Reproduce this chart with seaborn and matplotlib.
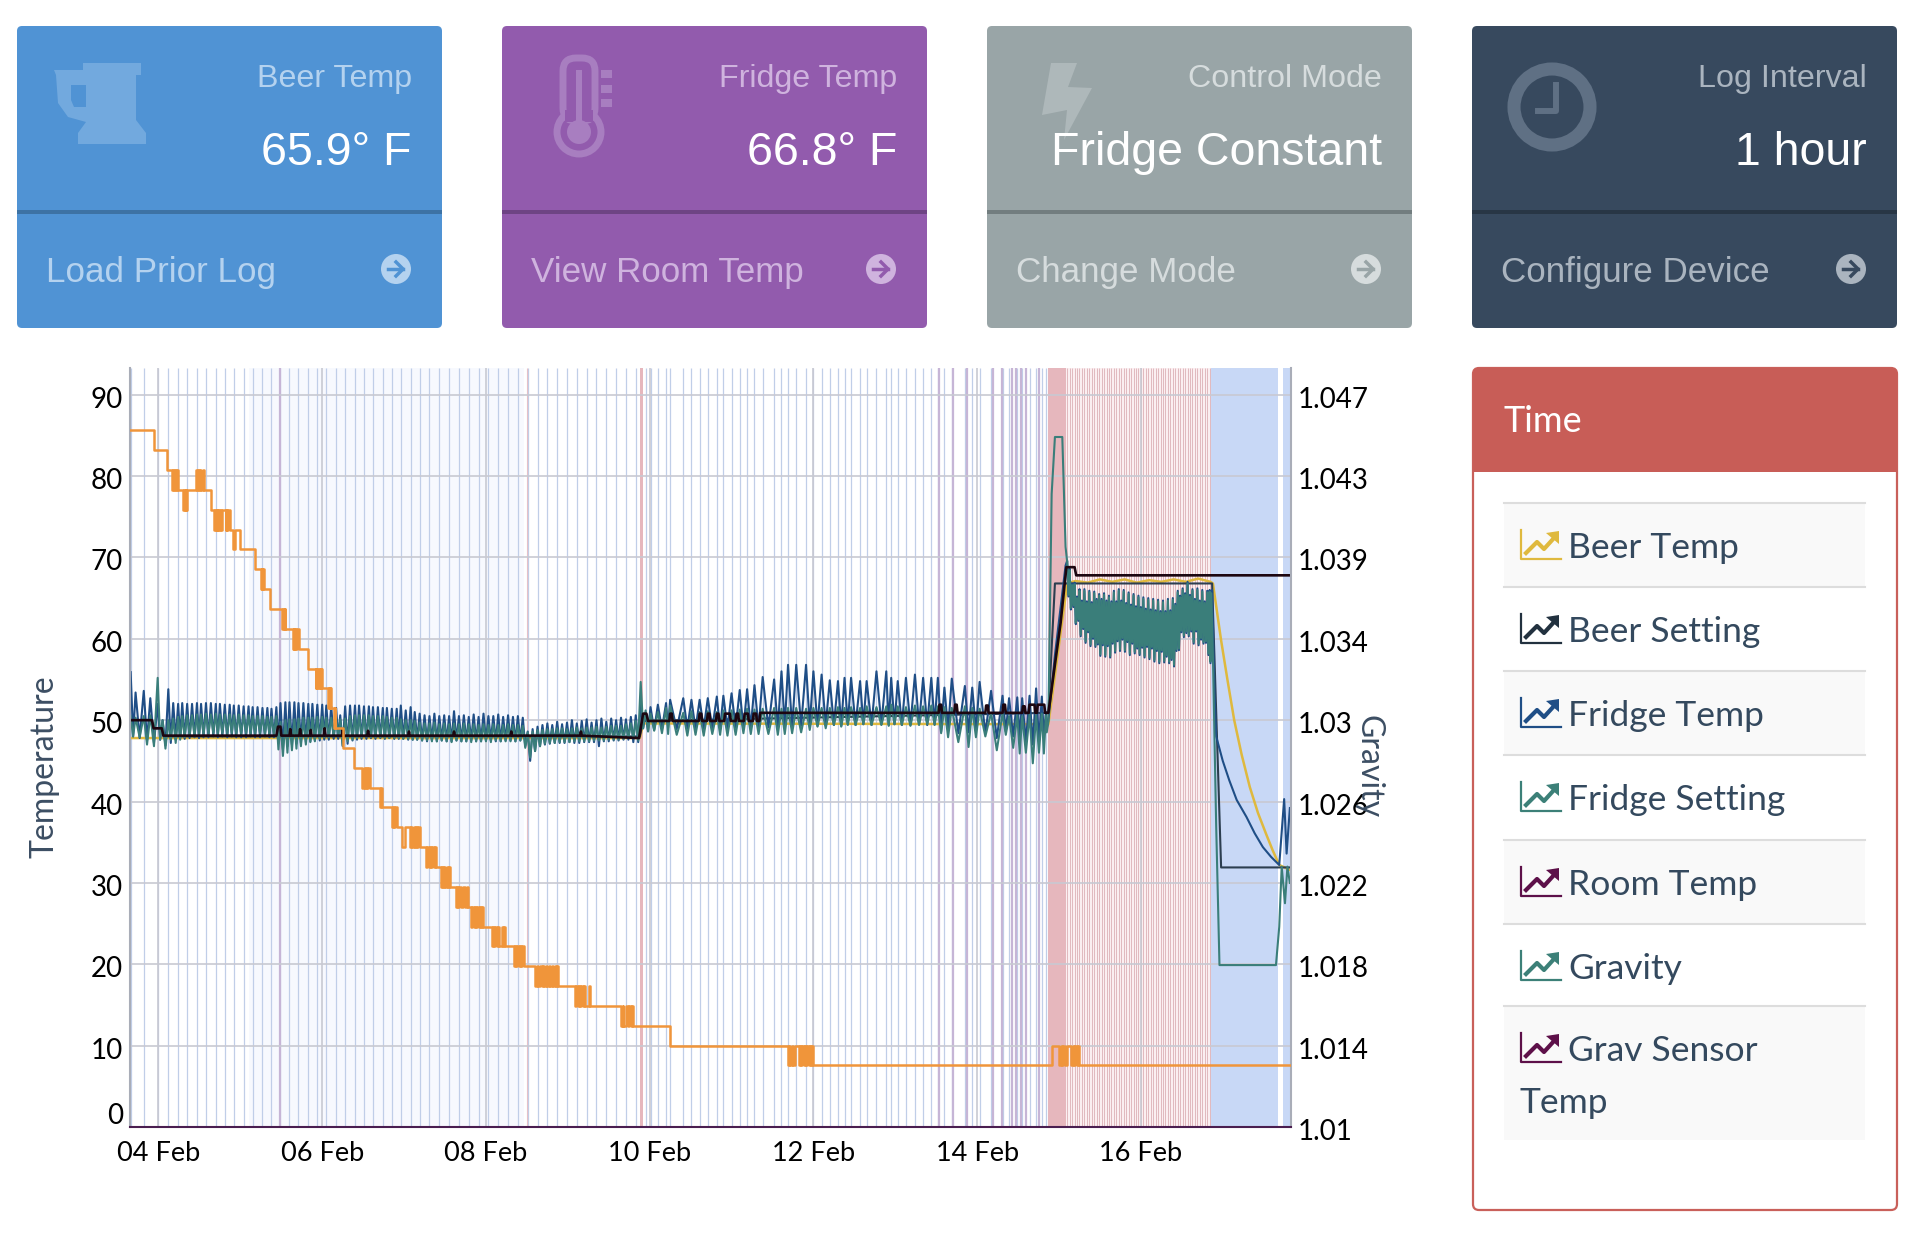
# Import library
import numpy as np
import pandas as pd
import seaborn as sns
import matplotlib.pyplot as plt
from matplotlib.patches import Circle, FancyBboxPatch, Polygon, Rectangle
from matplotlib.transforms import ScaledTranslation

plt.rcParams['font.family'] = ['Lato', 'DejaVu Sans']
figure = plt.figure(figsize=(19.12, 12.48), dpi=100)

# Page layer in pixels, for the cards and the side panel
plt.axes([0, 0, 1, 1])
plt.xlim(0, 1912)
plt.ylim(1248, 0)
plt.axis('off')
page = plt.gca()

# left, fill, divider, icon, soft text, title, value, footer
cards = [
    (17, '#5093d4', '#3d72a4', '#72a9de', '#b4d2ef', 'Beer Temp', '65.9° F', 'Load Prior Log'),
    (502, '#925bad', '#6e4484', '#a87ec0', '#cfb3de', 'Fridge Temp', '66.8° F', 'View Room Temp'),
    (987, '#99a5a7', '#727d7f', '#aeb8ba', '#d6dcdd', 'Control Mode', 'Fridge Constant', 'Change Mode'),
    (1472, '#37495e', '#283645', '#5f7084', '#aab4bf', 'Log Interval', '1 hour', 'Configure Device'),
]
for left, fill, divider, icon, soft, title, value, footer in cards:
    page.add_patch(FancyBboxPatch((left + 5, 31), 415, 292, boxstyle='round,pad=5', fc=fill, ec='none'))
    page.add_patch(Rectangle((left, 210), 425, 4, fc=divider, ec='none'))
    plt.text(left + 395, 87, title, ha='right', va='baseline', color=soft, fontsize=23.2, family='Liberation Sans')
    plt.text(left + 395, 165, value, ha='right', va='baseline', color='white', fontsize=33.5, family='Liberation Sans')
    plt.text(left + 29, 282, footer, ha='left', va='baseline', color=soft, fontsize=25.2, family='Liberation Sans')
    page.add_patch(Circle((left + 379, 269), 15, fc=soft, ec='none'))
    plt.plot([left + 371, left + 386], [269, 269], color=fill, lw=2.5)
    plt.plot([left + 379, left + 386, left + 379], [262, 269, 276], color=fill, lw=2.5)

# Card icons
page.add_patch(Polygon([(83, 63), (141, 63), (141, 75), (136, 75), (136, 120), (146, 133), (146, 144), (78, 144),
                        (78, 133), (86, 122), (68, 117), (58, 103), (56, 75), (54, 70), (83, 70)], fc='#72a9de'))
page.add_patch(Polygon([(71, 85), (86, 85), (86, 107), (74, 107), (71, 100)], fc='#5093d4'))
page.add_patch(Circle((579, 132), 22, fc='#925bad', ec='#a87ec0', lw=5))
page.add_patch(FancyBboxPatch((566, 61), 26, 57, boxstyle='round,pad=3,rounding_size=13', fc='#925bad', ec='#a87ec0', lw=5))
page.add_patch(Rectangle((565, 110), 28, 12, fc='#925bad', ec='none'))
page.add_patch(Rectangle((576, 70), 6, 60, fc='#a87ec0', ec='none'))
page.add_patch(Circle((579, 132), 12, fc='#a87ec0', ec='none'))
for markTop in [70, 85, 99]:
    page.add_patch(Rectangle((601, markTop), 11, 8, fc='#a87ec0', ec='none'))
page.add_patch(Polygon([(1051, 63), (1077, 63), (1068, 87), (1092, 88), (1064, 140), (1067, 110), (1042, 115)], fc='#aeb8ba'))
page.add_patch(Circle((1552, 107), 38, fc='none', ec='#5f7084', lw=9.4))
plt.plot([1556, 1556, 1538], [85, 111, 111], color='#5f7084', lw=4.3)

# Side panel with the series names
page.add_patch(FancyBboxPatch((1479, 374), 412, 830, boxstyle='round,pad=6', fc='white', ec='#c9605a', lw=1.6))
page.add_patch(FancyBboxPatch((1479, 374), 412, 92, boxstyle='round,pad=6', fc='#c85d57', ec='none'))
page.add_patch(Rectangle((1473, 440), 424, 32, fc='#c85d57', ec='none'))
plt.text(1504, 432, 'Time', color='white', fontsize=26, va='baseline')

legendRows = [
    (503, 587, '#dfb93e', 'Beer Temp', True),
    (587, 671, '#22313f', 'Beer Setting', False),
    (671, 755, '#1f4e86', 'Fridge Temp', True),
    (755, 840, '#3c8078', 'Fridge Setting', False),
    (840, 924, '#5d1049', 'Room Temp', True),
    (924, 1006, '#3c8078', 'Gravity', False),
    (1006, 1140, '#5d1049', 'Grav Sensor', True),
]
for top, bottom, color, name, shaded in legendRows:
    if shaded:
        page.add_patch(Rectangle((1504, top), 361, bottom - top, fc='#f9f9f9', ec='none'))
    plt.plot([1504, 1865], [top, top], color='#dddddd', lw=1.5)
    plt.plot([1521, 1521, 1561], [top + 27, top + 56, top + 56], color=color, lw=1.6)
    plt.plot([1526, 1537, 1544, 1554], [top + 50, top + 39, top + 46, top + 35], color=color, lw=3)
    page.add_patch(Polygon([(1546, top + 30), (1559, top + 28), (1559, top + 41)], fc=color, ec='none'))
    plt.text(1568, top + 55, name, color='#34495e', fontsize=25.5, va='baseline')
plt.text(1520, 1113, 'Temp', color='#34495e', fontsize=25.5, va='baseline')

# Fridge cycles before the heating starts: day of Feb, fridge high/low, setting high/low
coldCycles = [
    [3.66, 55.9, 48.0, 50.5, 48.0], [3.72, 53.4, 47.8, 50.3, 47.9], [3.82, 53.6, 47.5, 50.5, 47.0], [3.90, 52.7, 47.2, 50.6, 46.8],
    [3.99, 52.0, 47.6, 55.2, 47.6], [4.05, 50.0, 46.9, 50.0, 46.5], [4.12, 53.8, 47.2, 50.0, 47.6], [4.18, 52.1, 47.6, 50.2, 47.2],
    [4.24, 52.0, 47.8, 50.4, 47.6], [4.29, 52.1, 47.7, 50.5, 47.9], [4.35, 52.0, 47.8, 50.6, 48.1], [4.41, 52.0, 47.9, 50.6, 48.0],
    [4.47, 52.1, 47.8, 50.7, 48.2], [4.52, 52.0, 47.9, 50.7, 48.3], [4.58, 52.1, 47.9, 50.8, 48.3], [4.64, 52.1, 48.0, 50.7, 48.4],
    [4.70, 52.0, 47.9, 50.8, 48.3], [4.75, 52.0, 48.0, 50.7, 48.4], [4.81, 51.9, 47.9, 50.7, 48.3], [4.87, 51.9, 48.0, 50.7, 48.4],
    [4.92, 51.8, 47.9, 50.6, 48.3], [4.98, 51.8, 47.9, 50.7, 48.3], [5.04, 51.7, 47.9, 50.6, 48.4], [5.10, 51.7, 48.0, 50.6, 48.3],
    [5.15, 51.6, 47.9, 50.5, 48.3], [5.21, 51.6, 47.9, 50.5, 48.4], [5.27, 51.5, 48.0, 50.5, 48.3], [5.33, 51.5, 47.9, 50.4, 48.3],
    [5.38, 51.4, 47.9, 50.4, 48.2], [5.44, 51.6, 47.2, 50.5, 46.4], [5.49, 52.1, 46.4, 49.8, 45.6], [5.55, 52.2, 46.8, 50.0, 46.0],
    [5.60, 52.2, 47.0, 50.1, 46.3], [5.66, 52.2, 47.1, 50.1, 46.5], [5.71, 52.1, 47.2, 50.2, 46.8], [5.77, 52.1, 47.3, 50.3, 47.0],
    [5.83, 52.0, 47.4, 50.3, 47.3], [5.88, 52.0, 47.5, 50.3, 47.4], [5.94, 51.9, 47.5, 50.4, 47.7], [6.00, 51.9, 47.6, 50.4, 47.9],
    [6.05, 51.8, 47.6, 50.3, 47.9], [6.11, 51.7, 47.7, 50.3, 48.0], [6.17, 51.5, 47.7, 50.2, 48.0], [6.22, 50.6, 46.8, 50.1, 46.9],
    [6.28, 51.7, 47.1, 50.2, 47.4], [6.34, 51.8, 47.5, 50.5, 47.6], [6.40, 51.8, 47.6, 50.6, 47.8], [6.45, 51.8, 47.7, 50.6, 47.9],
    [6.51, 51.7, 47.7, 50.6, 48.0], [6.57, 51.7, 47.8, 50.6, 47.9], [6.62, 51.6, 47.7, 50.5, 47.9], [6.68, 51.6, 47.8, 50.5, 47.9],
    [6.74, 51.5, 47.7, 50.5, 47.8], [6.79, 51.5, 47.8, 50.4, 47.8], [6.85, 51.4, 47.7, 50.3, 47.8], [6.91, 51.4, 47.7, 50.3, 47.8],
    [6.96, 51.8, 47.7, 50.1, 47.7], [7.02, 51.2, 47.6, 50.0, 47.7], [7.08, 51.6, 47.6, 50.0, 47.6], [7.13, 51.0, 47.6, 49.9, 47.6],
    [7.19, 50.8, 47.5, 49.7, 47.5], [7.25, 50.6, 47.4, 49.6, 47.5], [7.31, 50.5, 47.5, 49.6, 47.4], [7.37, 50.8, 47.4, 49.7, 47.4],
    [7.43, 50.5, 47.5, 49.5, 47.5], [7.49, 50.6, 47.4, 49.6, 47.4], [7.55, 50.5, 47.4, 49.5, 47.3], [7.61, 51.1, 47.5, 49.6, 47.5],
    [7.67, 50.5, 47.4, 49.5, 47.4], [7.73, 50.6, 47.4, 49.6, 47.4], [7.79, 50.4, 47.5, 49.5, 47.3], [7.85, 50.7, 47.4, 49.5, 47.4],
    [7.91, 50.4, 47.4, 49.4, 47.4], [7.97, 50.8, 47.5, 49.5, 47.4], [8.03, 50.5, 47.5, 49.4, 47.3], [8.09, 50.5, 47.4, 49.5, 47.5],
    [8.15, 50.7, 47.4, 49.4, 47.4], [8.21, 50.4, 47.5, 49.4, 47.4], [8.27, 50.6, 47.5, 49.5, 47.4], [8.33, 50.4, 47.4, 49.4, 47.4],
    [8.39, 50.5, 47.5, 49.4, 47.5], [8.45, 50.3, 46.8, 49.3, 46.6], [8.51, 48.6, 45.0, 48.5, 45.4], [8.57, 48.9, 46.2, 48.6, 46.2],
    [8.63, 49.2, 46.8, 48.8, 46.8], [8.69, 49.4, 47.0, 48.8, 47.1], [8.75, 49.6, 47.1, 48.9, 47.2], [8.81, 49.4, 47.2, 48.9, 47.2],
    [8.87, 49.8, 47.2, 49.0, 47.3], [8.93, 49.5, 47.2, 49.0, 47.3], [8.99, 49.7, 47.3, 48.9, 47.3], [9.05, 50.0, 47.2, 49.0, 47.4],
    [9.11, 49.6, 47.2, 49.1, 47.4], [9.17, 49.9, 47.3, 49.0, 47.4], [9.23, 50.1, 47.3, 49.1, 47.4], [9.29, 49.7, 47.3, 49.1, 47.5],
    [9.35, 50.0, 46.8, 49.2, 47.5], [9.41, 50.2, 47.4, 49.1, 47.5], [9.47, 49.8, 47.4, 49.2, 47.6], [9.53, 50.2, 47.5, 49.3, 47.6],
    [9.59, 50.0, 47.5, 49.3, 47.6], [9.65, 50.3, 47.6, 49.3, 47.7], [9.71, 50.1, 47.6, 49.5, 47.8], [9.77, 50.4, 47.3, 49.6, 47.8],
    [9.83, 50.6, 47.3, 49.9, 47.5], [9.89, 52.0, 49.0, 54.7, 49.0], [9.95, 50.9, 48.7, 51.2, 48.6], [10.01, 51.6, 48.8, 50.8, 48.7],
    [10.10, 51.9, 48.9, 51.0, 48.4], [10.20, 52.1, 49.1, 51.5, 48.3], [10.25, 52.5, 48.9, 51.8, 48.2], [10.41, 52.7, 49.0, 50.9, 48.1],
    [10.51, 52.5, 48.9, 51.1, 48.2], [10.61, 52.5, 49.0, 51.0, 48.1], [10.71, 52.7, 49.0, 51.1, 48.3], [10.82, 52.9, 48.9, 51.0, 48.2],
    [10.90, 53.0, 49.0, 51.2, 48.1], [11.00, 53.3, 49.1, 51.2, 48.2], [11.10, 53.7, 49.0, 51.3, 48.4], [11.19, 53.8, 49.1, 51.4, 48.3],
    [11.28, 54.3, 49.0, 51.3, 48.3], [11.38, 55.3, 49.1, 51.4, 48.3], [11.52, 55.0, 49.0, 51.5, 48.2], [11.61, 56.0, 49.2, 51.4, 48.3],
    [11.69, 56.8, 49.1, 51.5, 48.4], [11.79, 56.8, 49.3, 51.5, 48.5], [11.91, 56.8, 49.4, 51.4, 48.8], [12.00, 56.0, 49.3, 51.5, 49.2],
    [12.10, 55.6, 49.4, 51.5, 49.0], [12.20, 54.9, 49.4, 51.5, 49.4], [12.30, 54.8, 49.3, 51.6, 49.2], [12.38, 55.2, 49.5, 51.5, 49.4],
    [12.46, 55.2, 49.4, 51.6, 49.4], [12.57, 54.8, 49.5, 51.5, 49.5], [12.65, 54.8, 49.4, 51.7, 49.4], [12.77, 56.0, 49.5, 51.6, 49.4],
    [12.89, 56.0, 49.4, 51.7, 49.3], [12.95, 55.2, 49.5, 51.9, 49.5], [13.03, 54.8, 49.4, 51.7, 49.4], [13.13, 55.2, 49.4, 51.6, 49.3],
    [13.24, 55.6, 49.5, 51.8, 49.4], [13.34, 55.2, 49.4, 51.7, 49.5], [13.44, 55.2, 49.5, 51.8, 49.4], [13.52, 55.2, 48.6, 51.7, 48.4],
    [13.60, 54.0, 48.8, 51.6, 47.9], [13.69, 55.1, 48.4, 51.5, 47.3], [13.85, 54.2, 48.5, 51.7, 46.7], [13.94, 54.0, 48.7, 51.5, 47.9],
    [14.03, 54.7, 48.4, 51.4, 48.0], [14.17, 53.6, 47.8, 50.9, 46.3], [14.31, 53.0, 48.6, 50.8, 48.2], [14.39, 52.7, 48.0, 50.5, 46.6],
    [14.49, 52.8, 47.8, 50.6, 45.9], [14.55, 52.7, 47.3, 50.5, 46.0], [14.64, 53.0, 47.0, 50.7, 44.7], [14.72, 53.9, 47.4, 50.6, 46.0],
    [14.79, 52.9, 48.0, 50.8, 45.9], [14.84, 51.0, 49.0, 50.6, 48.5],
]
cold = pd.DataFrame(coldCycles, columns=['day', 'fridgeHigh', 'fridgeLow', 'settingHigh', 'settingLow'])

# Fridge cycles while holding the warm setting, same columns
warmCycles = [
    [15.10, 69.6, 65.2, 69.4, 65.4], [15.13, 68.6, 63.6, 68.4, 63.8], [15.16, 66.8, 63.9, 66.6, 64.1], [15.19, 66.9, 61.8, 66.7, 62.0],
    [15.22, 65.2, 62.2, 65.0, 62.4], [15.25, 66.1, 60.3, 65.9, 60.5], [15.28, 64.7, 61.2, 64.5, 61.4], [15.31, 66.1, 59.5, 65.9, 59.7],
    [15.34, 64.6, 60.8, 64.4, 61.0], [15.37, 65.9, 59.1, 65.7, 59.3], [15.40, 64.5, 60.0, 64.3, 60.2], [15.43, 65.8, 59.0, 65.6, 59.2],
    [15.46, 64.9, 59.3, 64.7, 59.5], [15.49, 65.5, 57.9, 65.3, 58.1], [15.52, 64.9, 59.2, 64.7, 59.4], [15.55, 65.6, 57.8, 65.4, 58.0],
    [15.58, 64.7, 59.1, 64.5, 59.3], [15.61, 65.3, 57.7, 65.1, 57.9], [15.64, 64.6, 59.4, 64.4, 59.6], [15.67, 65.9, 58.3, 65.7, 58.5],
    [15.70, 64.6, 59.7, 64.4, 59.9], [15.73, 66.1, 58.5, 65.9, 58.7], [15.76, 64.7, 59.9, 64.5, 60.1], [15.79, 66.0, 58.4, 65.8, 58.6],
    [15.82, 64.4, 59.6, 64.2, 59.8], [15.85, 65.7, 58.0, 65.5, 58.2], [15.88, 64.2, 59.4, 64.0, 59.6], [15.91, 65.5, 58.2, 65.3, 58.4],
    [15.94, 64.0, 58.8, 63.8, 59.0], [15.97, 65.3, 58.0, 65.1, 58.2], [16.00, 63.9, 58.9, 63.7, 59.1], [16.03, 65.1, 57.7, 64.9, 57.9],
    [16.06, 63.7, 59.0, 63.5, 59.2], [16.09, 65.0, 57.5, 64.8, 57.7], [16.12, 63.6, 58.8, 63.4, 59.0], [16.15, 64.9, 57.2, 64.7, 57.4],
    [16.18, 63.5, 58.5, 63.3, 58.7], [16.21, 64.8, 57.0, 64.6, 57.2], [16.24, 63.4, 58.4, 63.2, 58.6], [16.27, 64.7, 57.1, 64.5, 57.3],
    [16.30, 63.4, 57.8, 63.2, 58.0], [16.33, 64.9, 57.0, 64.7, 57.2], [16.36, 63.5, 57.4, 63.3, 57.6], [16.39, 65.0, 56.6, 64.8, 56.8],
    [16.42, 64.3, 58.5, 64.1, 58.7], [16.45, 65.9, 58.6, 65.7, 58.8], [16.48, 65.3, 60.8, 65.1, 61.0], [16.51, 66.2, 60.2, 66.0, 60.4],
    [16.54, 65.6, 60.7, 65.4, 60.9], [16.57, 67.0, 60.3, 66.8, 60.5], [16.60, 65.4, 60.9, 65.2, 61.1], [16.63, 66.1, 59.4, 65.9, 59.6],
    [16.66, 64.9, 60.9, 64.7, 61.1], [16.69, 66.2, 59.2, 66.0, 59.4], [16.72, 64.7, 59.9, 64.5, 60.1], [16.75, 66.0, 59.4, 65.8, 59.6],
    [16.78, 64.6, 59.5, 64.4, 59.7], [16.81, 65.9, 58.0, 65.7, 58.2], [16.84, 66.0, 57.0, 65.8, 57.2],
]
warm = pd.DataFrame(warmCycles, columns=['day', 'fridgeHigh', 'fridgeLow', 'settingHigh', 'settingLow'])

# Each cycle goes high at its day and low halfway to the next one
cold['lowDay'] = (cold['day'] + cold['day'].shift(-1).fillna(14.86)) / 2
warm['lowDay'] = (warm['day'] + warm['day'].shift(-1).fillna(16.86)) / 2

fridgeDays = np.concatenate([np.ravel(cold[['day', 'lowDay']]), [14.87, 14.95, 15.08], np.ravel(warm[['day', 'lowDay']]),
                             [16.87, 16.90, 16.92, 17.00, 17.08, 17.17, 17.29, 17.39, 17.49, 17.59, 17.69, 17.75, 17.78, 17.82]])
fridgeTemp = np.concatenate([np.ravel(cold[['fridgeHigh', 'fridgeLow']]), [50.0, 58.0, 69.0], np.ravel(warm[['fridgeHigh', 'fridgeLow']]),
                             [66.0, 53.3, 48.0, 45.0, 42.6, 40.2, 38.1, 36.1, 34.4, 33.2, 32.2, 40.3, 33.6, 39.2]])
settingDays = np.concatenate([np.ravel(cold[['day', 'lowDay']]), [14.87, 14.91, 14.95, 15.04, 15.08], np.ravel(warm[['day', 'lowDay']]),
                              [16.86, 16.88, 16.92, 16.96, 17.65, 17.69, 17.72, 17.76, 17.79, 17.82]])
fridgeSetting = np.concatenate([np.ravel(cold[['settingHigh', 'settingLow']]), [49.8, 77.8, 84.8, 84.8, 71.3], np.ravel(warm[['settingHigh', 'settingLow']]),
                                [65.6, 57.8, 36.9, 19.9, 19.9, 24.6, 32.0, 27.5, 32.0, 30.0]])

beerDays = [3.65, 9.88, 9.92, 14.87, 15.10, 15.2, 15.35, 15.5, 15.65, 15.8, 15.95, 16.1, 16.25, 16.4, 16.55, 16.7, 16.85, 16.88,
            16.98, 17.06, 17.14, 17.23, 17.33, 17.43, 17.53, 17.61, 17.69, 17.82]
beerTemp = [47.8, 47.8, 49.6, 49.5, 66.8, 67.1, 66.9, 67.3, 67.0, 67.3, 66.9, 67.2, 67.0, 67.3, 67.0, 67.4, 67.0, 66.8,
            59.8, 54.8, 50.0, 45.8, 41.8, 38.6, 36.0, 34.0, 32.2, 31.6]

beerSettingDays = [3.65, 3.92, 3.94, 4.04, 4.06, 9.88, 9.92, 14.87, 14.95, 16.87, 16.98, 17.83]
beerSetting = [50.0, 50.0, 49.0, 49.0, 48.0, 48.0, 49.9, 50.9, 66.8, 66.8, 31.9, 31.9]

roomDays = [3.65, 3.92, 3.94, 4.04, 4.06, 5.44, 5.46, 5.49, 5.50, 5.60, 5.61, 5.62, 5.72, 5.73, 5.74, 5.85, 5.86, 5.87, 6.02, 6.03, 6.04,
            6.24, 6.25, 6.26, 6.55, 6.56, 6.57, 7.05, 7.06, 7.07, 7.60, 7.61, 7.62, 8.30, 8.31, 8.32, 9.15, 9.16, 9.17, 9.87, 9.92, 9.96, 9.98,
            10.24, 10.25, 10.27, 10.28, 10.60, 10.61, 10.63, 10.64, 10.70, 10.71, 10.73, 10.74, 10.81, 10.82, 10.84, 10.85,
            10.91, 10.92, 10.98, 10.99, 11.05, 11.06, 11.08, 11.09, 11.15, 11.16, 11.20, 11.21, 11.26, 11.27, 11.30, 11.31, 11.34, 11.35,
            13.53, 13.54, 13.56, 13.57, 13.72, 13.73, 13.75, 13.76, 14.10, 14.11, 14.13, 14.14, 14.31, 14.32, 14.34, 14.35, 14.55, 14.56,
            14.58, 14.59, 14.63, 14.64, 14.70, 14.71, 14.73, 14.74, 14.82, 14.83, 14.87, 15.02, 15.09, 15.19, 15.21, 17.83]
roomTemp = [50.0, 50.0, 49.0, 49.0, 48.1, 48.1, 49.2, 49.2, 48.1, 48.1, 48.9, 48.1, 48.1, 48.9, 48.1, 48.1, 48.8, 48.1, 48.1, 49.0, 48.1,
            48.1, 48.9, 48.1, 48.1, 48.7, 48.1, 48.1, 48.6, 48.1, 48.1, 48.6, 48.1, 48.1, 48.6, 48.1, 48.1, 48.6, 48.1, 47.8, 50.8, 50.8, 49.9,
            49.9, 50.8, 50.8, 49.9, 49.9, 50.8, 50.8, 49.9, 49.9, 50.8, 50.8, 49.9, 49.9, 50.8, 50.8, 49.9,
            49.9, 50.8, 50.8, 49.9, 49.9, 50.8, 50.8, 49.9, 49.9, 50.8, 50.8, 49.9, 49.9, 50.8, 50.8, 49.9, 49.9, 50.9,
            50.9, 51.9, 51.9, 50.9, 50.9, 51.9, 51.9, 50.9, 50.9, 51.8, 51.8, 50.9, 50.9, 51.9, 51.9, 50.9, 50.9, 51.7,
            51.7, 50.9, 50.9, 51.9, 51.9, 50.9, 50.9, 51.9, 51.9, 50.9, 50.9, 62.0, 68.8, 68.8, 67.8, 67.8]

# Gravity as day of Feb and points above 1.000, held until the next row
gravitySteps = [
    (3.65, 45.1), (3.945, 44.1), (4.11, 43.1), (4.17, 42.1), (4.18, 43.1), (4.19, 42.1), (4.20, 43.1), (4.21, 42.1), (4.22, 43.1), (4.235, 42.1), (4.30, 41.1), (4.31, 42.1),
    (4.32, 41.1), (4.33, 42.1), (4.34, 41.1), (4.35, 42.1), (4.46, 43.1), (4.47, 42.1), (4.48, 43.1), (4.49, 42.1), (4.51, 43.1), (4.525, 42.1), (4.54, 43.1), (4.555, 42.1),
    (4.64, 41.1), (4.68, 40.1), (4.69, 41.1), (4.70, 40.1), (4.71, 41.1), (4.72, 40.1), (4.73, 41.1), (4.74, 40.1), (4.75, 41.1), (4.76, 40.1), (4.78, 41.1), (4.82, 40.1),
    (4.83, 41.1), (4.84, 40.1), (4.85, 41.1), (4.87, 40.1), (4.91, 39.1), (4.93, 40.1), (4.99, 39.1), (5.18, 38.1), (5.25, 37.1), (5.26, 38.1), (5.27, 37.1), (5.28, 38.1),
    (5.29, 37.1), (5.36, 36.1), (5.51, 35.1), (5.52, 36.1), (5.53, 35.1), (5.54, 36.1), (5.55, 35.1), (5.64, 34.1), (5.65, 35.1), (5.66, 34.1), (5.67, 35.1), (5.68, 34.1),
    (5.69, 35.1), (5.72, 34.1), (5.83, 33.1), (5.92, 32.1), (5.93, 33.1), (5.94, 32.1), (5.95, 33.1), (5.96, 32.1), (5.97, 33.1), (5.98, 32.1), (5.99, 33.1), (6.00, 32.1),
    (6.07, 31.1), (6.08, 32.1), (6.09, 31.1), (6.10, 32.1), (6.11, 31.1), (6.14, 30.1), (6.15, 31.1), (6.16, 30.1), (6.25, 29.1), (6.39, 28.1),
    (6.49, 27.1), (6.505, 28.1), (6.52, 27.1), (6.535, 28.1), (6.55, 27.1), (6.565, 28.1), (6.58, 27.1), (6.70, 26.1), (6.715, 27.1), (6.73, 26.1),
    (6.85, 25.1), (6.865, 26.1), (6.88, 25.1), (6.895, 26.1), (6.91, 25.1), (6.98, 24.1), (7.01, 25.1), (7.07, 24.1), (7.085, 25.1), (7.10, 24.1), (7.115, 25.1), (7.13, 24.1),
    (7.145, 25.1), (7.16, 24.1), (7.175, 25.1), (7.19, 24.1), (7.27, 23.1), (7.285, 24.1), (7.30, 23.1), (7.315, 24.1), (7.33, 23.1), (7.345, 24.1), (7.36, 23.1), (7.375, 24.1), (7.39, 23.1),
    (7.445, 22.1), (7.46, 23.1), (7.475, 22.1), (7.49, 23.1), (7.505, 22.1), (7.52, 23.1), (7.535, 22.1), (7.55, 23.1), (7.565, 22.1),
    (7.63, 21.1), (7.645, 22.1), (7.66, 21.1), (7.675, 22.1), (7.69, 21.1), (7.72, 22.1), (7.75, 21.1), (7.77, 22.1), (7.775, 21.1),
    (7.82, 20.1), (7.835, 21.1), (7.85, 20.1), (7.865, 21.1), (7.88, 20.1), (7.895, 21.1), (7.91, 20.1), (7.925, 21.1), (7.94, 20.1), (7.955, 21.1), (7.97, 20.1),
    (8.07, 19.1), (8.085, 20.1), (8.10, 19.1), (8.115, 20.1), (8.13, 19.1), (8.145, 20.1), (8.16, 19.1), (8.19, 20.1), (8.205, 19.1), (8.22, 20.1), (8.23, 19.1),
    (8.34, 18.1), (8.355, 19.1), (8.37, 18.1), (8.385, 19.1), (8.40, 18.1), (8.415, 19.1), (8.43, 18.1), (8.445, 19.1), (8.46, 18.1),
    (8.60, 17.1), (8.62, 18.1), (8.64, 17.1), (8.66, 18.1), (8.68, 17.1), (8.70, 18.1), (8.715, 17.1), (8.735, 18.1), (8.75, 17.1), (8.77, 18.1), (8.785, 17.1), (8.805, 18.1), (8.82, 17.1),
    (8.84, 18.1), (8.855, 17.1), (8.865, 18.1), (8.875, 17.1),
    (9.09, 16.1), (9.105, 17.1), (9.12, 16.1), (9.135, 17.1), (9.15, 16.1), (9.165, 17.1), (9.18, 16.1), (9.20, 17.1), (9.215, 16.1), (9.26, 17.1), (9.275, 16.1),
    (9.655, 15.1), (9.67, 16.1), (9.68, 15.1), (9.715, 16.1), (9.73, 15.1), (9.75, 16.1), (9.77, 15.1), (9.785, 16.1), (9.80, 15.1),
    (10.25, 14.1), (11.69, 13.1), (11.705, 14.1), (11.72, 13.1), (11.74, 14.1), (11.75, 13.1), (11.77, 14.1), (11.82, 13.1), (11.835, 14.1), (11.85, 13.1), (11.865, 14.1),
    (11.88, 13.1), (11.895, 14.1), (11.91, 13.1), (11.925, 14.1), (11.94, 13.1), (11.955, 14.1), (11.97, 13.1), (11.985, 14.1), (11.99, 13.1),
    (14.92, 14.1), (15.00, 13.1), (15.02, 14.1), (15.035, 13.1), (15.05, 14.1), (15.07, 13.1), (15.10, 14.1), (15.15, 13.1), (15.165, 14.1), (15.18, 13.1), (15.20, 14.1),
    (15.22, 13.1), (15.235, 14.1), (15.25, 13.1), (17.83, 13.1),
]
gravity = pd.DataFrame(gravitySteps, columns=['day', 'points'])

# Temperature axes
plt.axes([130 / 1912, 121 / 1248, 1160.7 / 1912, 759 / 1248])
plt.xlim(3.652, 17.83)
plt.ylim(0, 93.28)

# Shaded states behind the lines, blue is cooling and red is heating
plt.axvspan(5.1, 8.46, color='#f7f9fe', lw=0, zorder=0)
plt.axvspan(15.09, 16.86, color='#fbeff1', lw=0, zorder=0)
plt.axvspan(14.87, 15.09, color='#e6b7bd', lw=0, zorder=0)
plt.axvspan(16.86, 17.68, color='#c8d8f6', lw=0, zorder=0)
plt.axvspan(17.74, 17.83, color='#c8d8f6', lw=0, zorder=0)
plt.axvspan(9.88, 9.92, color='#e6b7bd', lw=0, zorder=0)
plt.vlines(cold['day'][cold['day'] < 9.9][::2], 0, 93.28, color='#c0cee8', lw=0.9, zorder=0.5)
plt.vlines(cold['day'][cold['day'] >= 9.9], 0, 93.28, color='#c0cee8', lw=0.9, zorder=0.5)
plt.vlines(warm['day'], 0, 93.28, color='#dcb0b6', lw=0.6, zorder=0.5)
plt.vlines([5.48, 13.53, 13.70, 13.87, 14.19, 14.30, 14.42, 14.48, 14.54, 14.60, 14.75], 0, 93.28, color='#c6b5d6', lw=1.6, zorder=0.6)
plt.vlines([8.5], 0, 93.28, color='#e6c0c8', lw=0.8, zorder=0.6)
plt.grid(True, color='#c8c9d2', lw=1.2)

# Plotting the temperature series
sns.lineplot(x=beerDays, y=beerTemp, color='#dfb93e', lw=1.8, estimator=None, sort=False)
sns.lineplot(x=beerSettingDays, y=beerSetting, color='#2c3e50', lw=1.5, estimator=None, sort=False)
sns.lineplot(x=fridgeDays, y=fridgeTemp, color='#1f4e86', lw=1.5, estimator=None, sort=False)
sns.lineplot(x=settingDays, y=fridgeSetting, color='#3a7e7a', lw=1.5, estimator=None, sort=False)
sns.lineplot(x=roomDays, y=roomTemp, color='#1c0610', lw=1.9, estimator=None, sort=False)

plt.xticks([4, 6, 8, 10, 12, 14, 16], ['04 Feb', '06 Feb', '08 Feb', '10 Feb', '12 Feb', '14 Feb', '16 Feb'], fontsize=19.5, color='black')
plt.yticks(range(0, 100, 10), fontsize=20, color='black')
plt.tick_params(length=0, pad=5)
plt.tick_params(axis='x', pad=10)
plt.gca().get_yticklabels()[0].set_verticalalignment('bottom')
for label in plt.gca().get_yticklabels():
    label.set_transform(label.get_transform() + ScaledTranslation(0, -0.025, figure.dpi_scale_trans))
plt.ylabel('Temperature', fontsize=23, color='#3c4e63')
plt.gca().yaxis.set_label_coords((59 - 130) / 1160.7, 0.475)
temperatureAxes = plt.gca()
temperatureAxes.spines['top'].set_visible(False)
temperatureAxes.spines['left'].set_color('#a9adb8')
temperatureAxes.spines['left'].set_linewidth(1.5)
temperatureAxes.spines['right'].set_color('#a9adb8')
temperatureAxes.spines['right'].set_linewidth(1.5)
temperatureAxes.spines['bottom'].set_color('#4a1e50')
temperatureAxes.spines['bottom'].set_linewidth(1.5)

# Gravity goes on its own scale at the right
plt.twinx()
sns.lineplot(x=gravity['day'].values, y=1 + gravity['points'].values / 1000, color='#f0953a', lw=1.8, estimator=None, sort=False, drawstyle='steps-post')
plt.ylim(1.01, 1.01 + 0.0041 * 9.328)
plt.yticks([1.01 + 0.0041 * n for n in range(10)], ['1.01', '1.014', '1.018', '1.022', '1.026', '1.03', '1.034', '1.039', '1.043', '1.047'], fontsize=20, color='black')
plt.tick_params(length=0, pad=5)
for label in plt.gca().get_yticklabels():
    label.set_transform(label.get_transform() + ScaledTranslation(0, -0.025, figure.dpi_scale_trans))
plt.ylabel('Gravity', fontsize=23, color='#3c4e63', rotation=270)
plt.gca().yaxis.set_label_coords((1384 - 130) / 1160.7, 0.475)
for side in plt.gca().spines.values():
    side.set_visible(False)

plt.savefig('out.png', dpi=100)
